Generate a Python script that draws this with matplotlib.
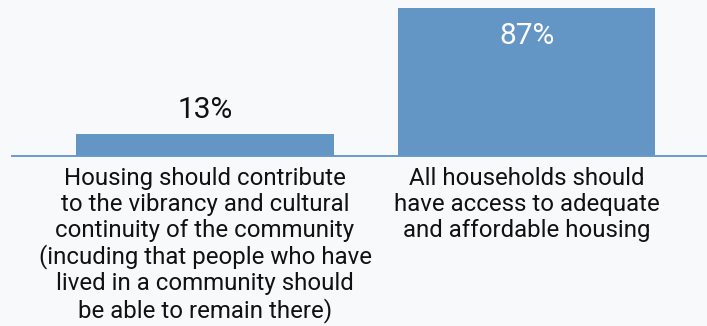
import matplotlib.pyplot as plt

# Data
categories = [
    "Housing should contribute\nto the vibrancy and cultural\ncontinuity of the community\n(incuding that people who have\nlived in a community should\nbe able to remain there)",
    "All households should\nhave access to adequate\nand affordable housing",
]
values = [13, 87]
value_labels = ["13%", "87%"]

bar_color = "#6395c5"
bg_color = "#f8f9fb"

plt.rcParams['font.family'] = ['Roboto', 'DejaVu Sans']

fig = plt.figure(figsize=(7.07, 3.26), dpi=100, facecolor=bg_color)
# axes spans from the top of the figure down to the baseline
ax = fig.add_axes([0, 170 / 326, 1, 156 / 326])
ax.set_facecolor(bg_color)

x = range(len(values))
bars = ax.bar(x, values, width=0.8, color=bar_color, zorder=2)

ax.set_xlim(-0.6376, 1.561)
ax.set_ylim(0, 91.7)
ax.axis('off')

# baseline
ax.plot([-0.600, 1.561], [0, 0], color="#6a9acb", lw=1.4, zorder=3, clip_on=False)

# value labels: small bar gets label above, big bar inside in white
for i, (v, lab) in enumerate(zip(values, value_labels)):
    if v < 50:
        ax.annotate(lab, xy=(i, v), xytext=(0, 7), textcoords='offset points',
                    ha='center', va='bottom', fontsize=21.5, color='#111111')
    else:
        ax.annotate(lab, xy=(i, v), xytext=(0, -10), textcoords='offset points',
                    ha='center', va='top', fontsize=21.5, color='white')

# category labels below the baseline
for i, cat in enumerate(categories):
    ax.annotate(cat, xy=(i, 0), xytext=(0, -8), textcoords='offset points',
                ha='center', va='top', fontsize=17.3, color='#111111',
                linespacing=1.15, annotation_clip=False)

fig.savefig("out.png", dpi=100, facecolor=bg_color)
